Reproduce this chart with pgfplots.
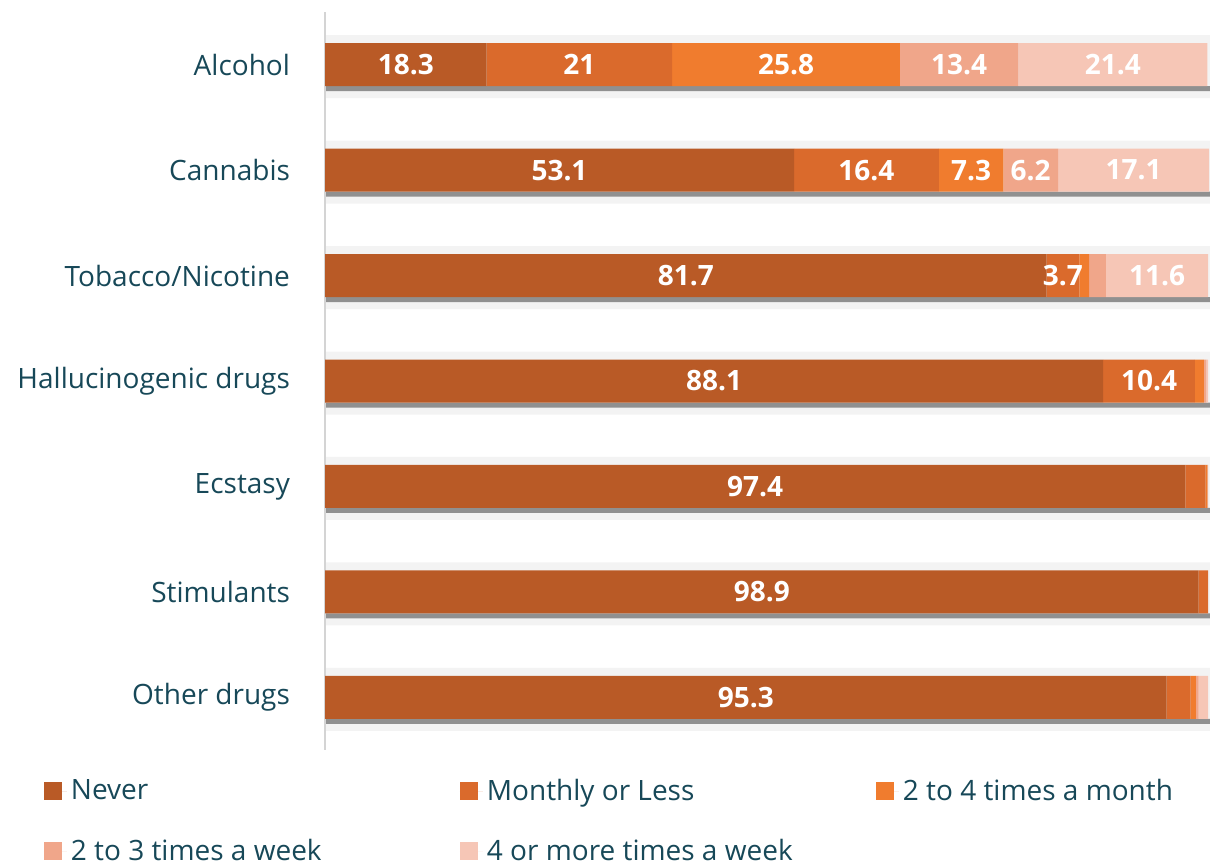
\documentclass[border=0pt]{standalone}
\usepackage{fontspec}
\setmainfont{Open Sans}
\usepackage{pgfplots}
\usepackage{pgfplotstable}
\pgfplotsset{compat=1.18}
\definecolor{txt}{HTML}{174858}
\definecolor{cnever}{HTML}{B95A26}
\definecolor{cmon}{HTML}{DA6A2C}
\definecolor{cfour}{HTML}{F07C2E}
\definecolor{cthree}{HTML}{F0A68A}
\definecolor{cmore}{HTML}{F6C6B6}
\definecolor{band}{HTML}{F3F3F3}
\definecolor{shadow}{HTML}{909090}
\definecolor{axisgrey}{HTML}{D4D4D4}

\pgfplotstableread{
y x label
0 18.3 18.3
1 53.1 53.1
2 81.7 81.7
3 88.1 88.1
4 97.4 97.4
5 98.9 98.9
6 95.3 95.3
}\never
\pgfplotstableread{
y x label
0 21 21
1 16.4 16.4
2 3.7 3.7
3 10.4 10.4
4 2.3 {}
5 1.1 {}
6 2.7 {}
}\monthly
\pgfplotstableread{
y x label
0 25.8 25.8
1 7.3 7.3
2 1.1 {}
3 1.0 {}
4 0.2 {}
5 0 {}
6 0.6 {}
}\fourmonth
\pgfplotstableread{
y x label
0 13.4 13.4
1 6.2 6.2
2 1.9 {}
3 0.3 {}
4 0.1 {}
5 0 {}
6 0.3 {}
}\threeweek
\pgfplotstableread{
y x label
0 21.4 21.4
1 17.1 17.1
2 11.6 11.6
3 0.2 {}
4 0 {}
5 0 {}
6 1.1 {}
}\moreweek
\pgfplotstableread{
y x
0 100.2
1 100.2
2 100.2
3 100.2
4 100.2
5 100.2
6 100.2
}\bg

\pgfplotsset{base/.style={
  scale only axis, width=442.5pt, height=369pt,
  at={(162.5pt,57.5pt)}, anchor=south west,
  xmin=0, xmax=100.2, ymin=-0.5, ymax=6.5, y dir=reverse,
}}

\begin{document}
\begin{tikzpicture}
\path[use as bounding box] (0,0) rectangle (605pt,432.5pt);
\begin{axis}[base, hide axis, xbar]
\addplot[fill=band, draw=none, bar width=31.5pt, bar shift=-1pt] table[x=x,y=y]{\bg};
\addplot[fill=shadow, draw=none, bar width=2.5pt, bar shift=-12pt] table[x=x,y=y]{\bg};
\end{axis}
\begin{axis}[base, xbar stacked, bar width=21.5pt,
  axis x line=none, axis y line*=left,
  y axis line style={axisgrey, line width=1pt, -},
  ytick={0,...,6},
  yticklabels={Alcohol,Cannabis,Tobacco/Nicotine,Hallucinogenic drugs,Ecstasy,Stimulants,Other drugs},
  major tick length=0pt,
  yticklabel style={font=\fontsize{14}{16}\selectfont, text=txt, xshift=-14pt},
  point meta=explicit symbolic,
  nodes near coords,
  every node near coord/.append style={anchor=center, text=white,
    font=\bfseries\fontsize{14}{16}\selectfont},
  legend columns=3,
  legend cell align=left,
  legend image code/.code={\path[#1,draw=none] (0pt,-4.5pt) rectangle (9pt,4.5pt);
    \path (0pt,0pt) -- (11.5pt,0pt);},
  legend style={at={(-0.3248,-0.028)}, anchor=north west, draw=none, fill=none,
    font=\fontsize{14}{16}\selectfont, text=txt, row sep=14pt,
    /tikz/every even column/.append style={column sep=0pt}},
]
\addplot[draw=none, fill=cnever] table[x=x,y=y,meta=label]{\never};
\addlegendentry{\makebox[192.5pt][l]{Never}}
\addplot[draw=none, fill=cmon] table[x=x,y=y,meta=label]{\monthly};
\addlegendentry{\makebox[192.5pt][l]{Monthly or Less}}
\addplot[draw=none, fill=cfour] table[x=x,y=y,meta=label]{\fourmonth};
\addlegendentry{\makebox[150pt][l]{2 to 4 times a month}}
\addplot[draw=none, fill=cthree] table[x=x,y=y,meta=label]{\threeweek};
\addlegendentry{\makebox[192.5pt][l]{2 to 3 times a week}}
\addplot[draw=none, fill=cmore] table[x=x,y=y,meta=label]{\moreweek};
\addlegendentry{\makebox[192.5pt][l]{4 or more times a week}}
\end{axis}
\end{tikzpicture}
\end{document}
